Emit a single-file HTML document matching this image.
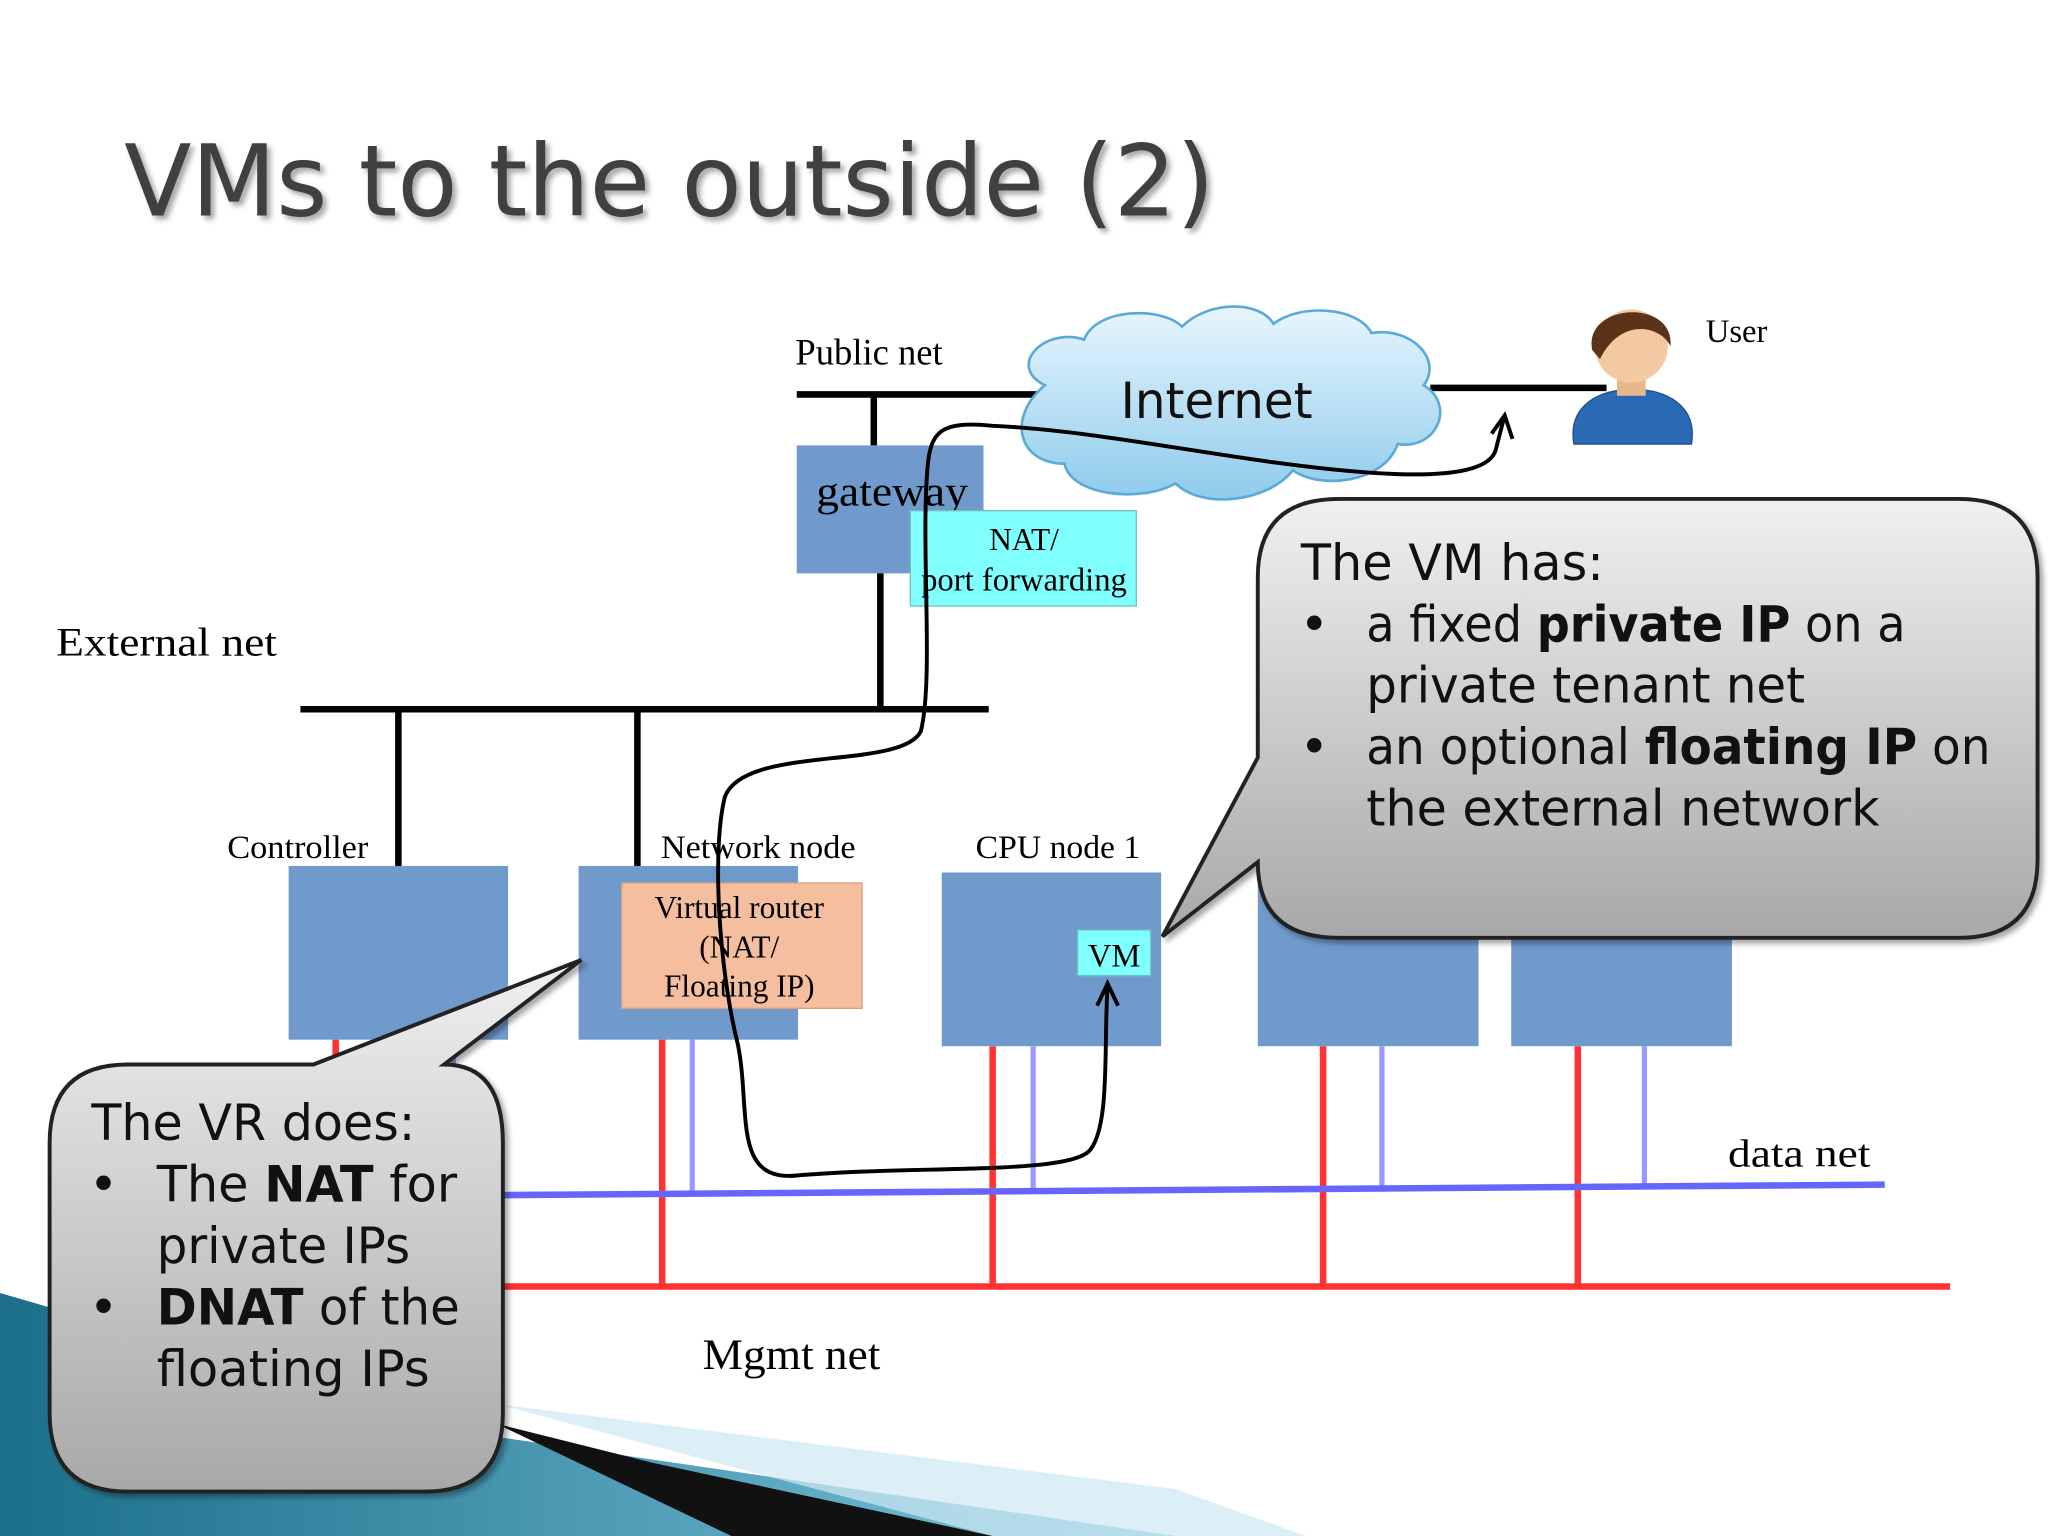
<!DOCTYPE html>
<html><head><meta charset="utf-8"><style>
html,body{margin:0;padding:0;background:#fff}
svg{display:block}
text{font-family:"Liberation Serif",serif}
.s{font-family:"DejaVu Sans","Liberation Sans",sans-serif}
</style></head><body>
<svg width="2048" height="1536" viewBox="0 0 1568 1176" xmlns="http://www.w3.org/2000/svg">
<defs>
<linearGradient id="cg" x1="0" y1="0" x2="0" y2="1"><stop offset="0" stop-color="#f0f0f0"/><stop offset="1" stop-color="#a8a8a8"/></linearGradient>
<linearGradient id="cl" x1="0" y1="0" x2="0" y2="1"><stop offset="0" stop-color="#e8f6fd"/><stop offset="1" stop-color="#8fcbec"/></linearGradient>
<linearGradient id="tl" x1="0" y1="0" x2="1" y2="0"><stop offset="0" stop-color="#1b6f8a"/><stop offset="1" stop-color="#7fc6de"/></linearGradient>
<filter id="sh"><feDropShadow dx="3" dy="3" stdDeviation="2" flood-opacity="0.35"/></filter>
</defs>
<rect width="1568" height="1176" fill="#fff"/>
<polygon points="0,990 380,1100 900,1176 0,1176" fill="url(#tl)"/>
<polygon points="380,1090 500,1120 760,1176 560,1176" fill="#111"/>
<polygon points="380,1075 900,1140 1000,1176 760,1176" fill="#cfe8f2" opacity="0.7"/>
<text x="95" y="165" class="s" font-size="76" fill="#404040" filter="url(#sh)" textLength="835" lengthAdjust="spacingAndGlyphs">VMs to the outside (2)</text>
<line x1="610" y1="302" x2="800" y2="302" stroke="#000" stroke-width="5"/>
<line x1="1095" y1="297" x2="1230" y2="297" stroke="#000" stroke-width="5"/>
<text x="609" y="279" font-size="28">Public net</text>
<g fill="url(#cl)" stroke="#5aaad8" stroke-width="2">
<path d="M800,295 C770,280 800,250 830,260 C840,235 890,235 905,250 C925,230 965,230 975,248 C995,232 1040,235 1050,255 C1080,250 1105,275 1090,295 C1115,310 1100,345 1070,340 C1060,370 1010,375 990,360 C970,385 920,390 900,370 C875,385 820,380 815,355 C780,355 770,320 800,295 Z"/>
</g>
<text x="858" y="320" class="s" font-size="38" fill="#111" textLength="147" lengthAdjust="spacingAndGlyphs">Internet</text>
<path d="M1205,340 C1200,310 1225,298 1250,298 C1275,298 1300,310 1295,340 Z" fill="#2a6ab5" stroke="#1d4f8c"/>
<rect x="1238" y="285" width="22" height="18" fill="#e8b88c"/>
<circle cx="1249" cy="265" r="28" fill="#f2c9a0"/>
<path d="M1219,268 C1212,232 1282,228 1279,265 C1270,248 1240,244 1225,275 Z" fill="#5a3318"/>
<text x="1306" y="262" font-size="25">User</text>
<line x1="669" y1="302" x2="669" y2="341" stroke="#000" stroke-width="5"/>
<rect x="610" y="341" width="143" height="98" fill="#7099cc"/>
<text x="625" y="387" font-size="32" textLength="116" lengthAdjust="spacingAndGlyphs">gateway</text>
<rect x="697" y="391" width="173" height="73" fill="#80ffff" stroke="#70c0c0"/>
<text x="784" y="421" font-size="24" text-anchor="middle">NAT/</text>
<text x="784" y="452" font-size="25" text-anchor="middle">port forwarding</text>
<line x1="674" y1="439" x2="674" y2="543" stroke="#000" stroke-width="5"/>
<text x="43" y="502" font-size="31" textLength="169" lengthAdjust="spacingAndGlyphs">External net</text>
<line x1="230" y1="543" x2="757" y2="543" stroke="#000" stroke-width="5"/>
<line x1="305" y1="543" x2="305" y2="663" stroke="#000" stroke-width="5"/>
<line x1="488" y1="543" x2="488" y2="663" stroke="#000" stroke-width="5"/>
<g stroke="#ff3333" stroke-width="5">
<line x1="257" y1="796" x2="257" y2="985"/><line x1="507" y1="796" x2="507" y2="985"/>
<line x1="760" y1="801" x2="760" y2="985"/><line x1="1013" y1="801" x2="1013" y2="985"/>
<line x1="1208" y1="801" x2="1208" y2="985"/>
</g>
<g stroke="#9999ff" stroke-width="4">
<line x1="347" y1="796" x2="347" y2="914"/><line x1="530" y1="796" x2="530" y2="914"/>
<line x1="791" y1="801" x2="791" y2="912"/><line x1="1058" y1="801" x2="1058" y2="910"/>
<line x1="1259" y1="801" x2="1259" y2="908"/>
</g>
<line x1="385" y1="915" x2="1443" y2="907" stroke="#6666ff" stroke-width="5"/>
<line x1="385" y1="985" x2="1493" y2="985" stroke="#ff3333" stroke-width="5"/>
<text x="1323" y="893" font-size="30" textLength="109" lengthAdjust="spacingAndGlyphs">data net</text>
<text x="538" y="1048" font-size="33" textLength="136" lengthAdjust="spacingAndGlyphs">Mgmt net</text>
<text x="174" y="657" font-size="25" textLength="108" lengthAdjust="spacingAndGlyphs">Controller</text>
<rect x="221" y="663" width="168" height="133" fill="#7099cc"/>
<text x="506" y="657" font-size="25" textLength="149" lengthAdjust="spacingAndGlyphs">Network node</text>
<rect x="443" y="663" width="168" height="133" fill="#7099cc"/>
<rect x="476" y="676" width="184" height="96" fill="#f5bf9f" stroke="#d8a080"/>
<text x="566" y="703" font-size="24" text-anchor="middle">Virtual router</text>
<text x="566" y="733" font-size="24" text-anchor="middle">(NAT/</text>
<text x="566" y="763" font-size="24" text-anchor="middle">Floating IP)</text>
<text x="747" y="657" font-size="25" textLength="126" lengthAdjust="spacingAndGlyphs">CPU node 1</text>
<rect x="721" y="668" width="168" height="133" fill="#7099cc"/>
<rect x="825" y="712" width="56" height="35" fill="#80ffff" stroke="#70c0c0"/>
<text x="853" y="740" font-size="25" text-anchor="middle">VM</text>
<rect x="963" y="668" width="169" height="133" fill="#7099cc"/>
<rect x="1157" y="668" width="169" height="133" fill="#7099cc"/>
<path d="M848,755 C845,800 850,860 835,880 C820,900 700,892 610,900 C560,905 575,850 565,800 C550,740 545,650 555,610 C570,570 690,590 705,560 C715,520 705,420 710,360 C712,330 720,322 760,326 C850,330 950,355 1050,362 C1110,366 1140,360 1145,345 L1152,318" fill="none" stroke="#000" stroke-width="3"/>
<path d="M1142,332 L1152,318 L1158,336" fill="none" stroke="#000" stroke-width="3"/>
<path d="M840,770 L848,753 L856,770" fill="none" stroke="#000" stroke-width="3"/>
<path d="M1025,382 L1500,382 Q1560,382 1560,442 L1560,658 Q1560,718 1500,718 L1025,718 Q963,718 963,660 L890,717 L963,580 L963,442 Q963,382 1025,382 Z" fill="url(#cg)" stroke="#222" stroke-width="3" filter="url(#sh)"/>
<g font-size="38" fill="#111">
<text x="996" y="444" class="s" textLength="232" lengthAdjust="spacingAndGlyphs">The VM has:</text>
<text x="995" y="491" class="s">•</text>
<text x="1046" y="491" class="s" textLength="413" lengthAdjust="spacingAndGlyphs">a fixed <tspan font-weight="bold">private IP</tspan> on a</text>
<text x="1046" y="538" class="s" textLength="336" lengthAdjust="spacingAndGlyphs">private tenant net</text>
<text x="995" y="585" class="s">•</text>
<text x="1046" y="585" class="s" textLength="478" lengthAdjust="spacingAndGlyphs">an optional <tspan font-weight="bold">floating IP</tspan> on</text>
<text x="1046" y="632" class="s" textLength="393" lengthAdjust="spacingAndGlyphs">the external network</text>
</g>
<path d="M98,815 L240,815 L445,735 L340,815 Q385,815 385,875 L385,1082 Q385,1142 325,1142 L98,1142 Q38,1142 38,1082 L38,875 Q38,815 98,815 Z" fill="url(#cg)" stroke="#222" stroke-width="3" filter="url(#sh)"/>
<g font-size="38" fill="#111">
<text x="70" y="873" class="s" textLength="248" lengthAdjust="spacingAndGlyphs">The VR does:</text>
<text x="68" y="920" class="s">•</text>
<text x="120" y="920" class="s" textLength="230" lengthAdjust="spacingAndGlyphs">The <tspan font-weight="bold">NAT</tspan> for</text>
<text x="120" y="967" class="s" textLength="194" lengthAdjust="spacingAndGlyphs">private IPs</text>
<text x="68" y="1014" class="s">•</text>
<text x="120" y="1014" class="s" textLength="232" lengthAdjust="spacingAndGlyphs"><tspan font-weight="bold">DNAT</tspan> of the</text>
<text x="120" y="1061" class="s" textLength="209" lengthAdjust="spacingAndGlyphs">floating IPs</text>
</g>
</svg>
</body></html>
